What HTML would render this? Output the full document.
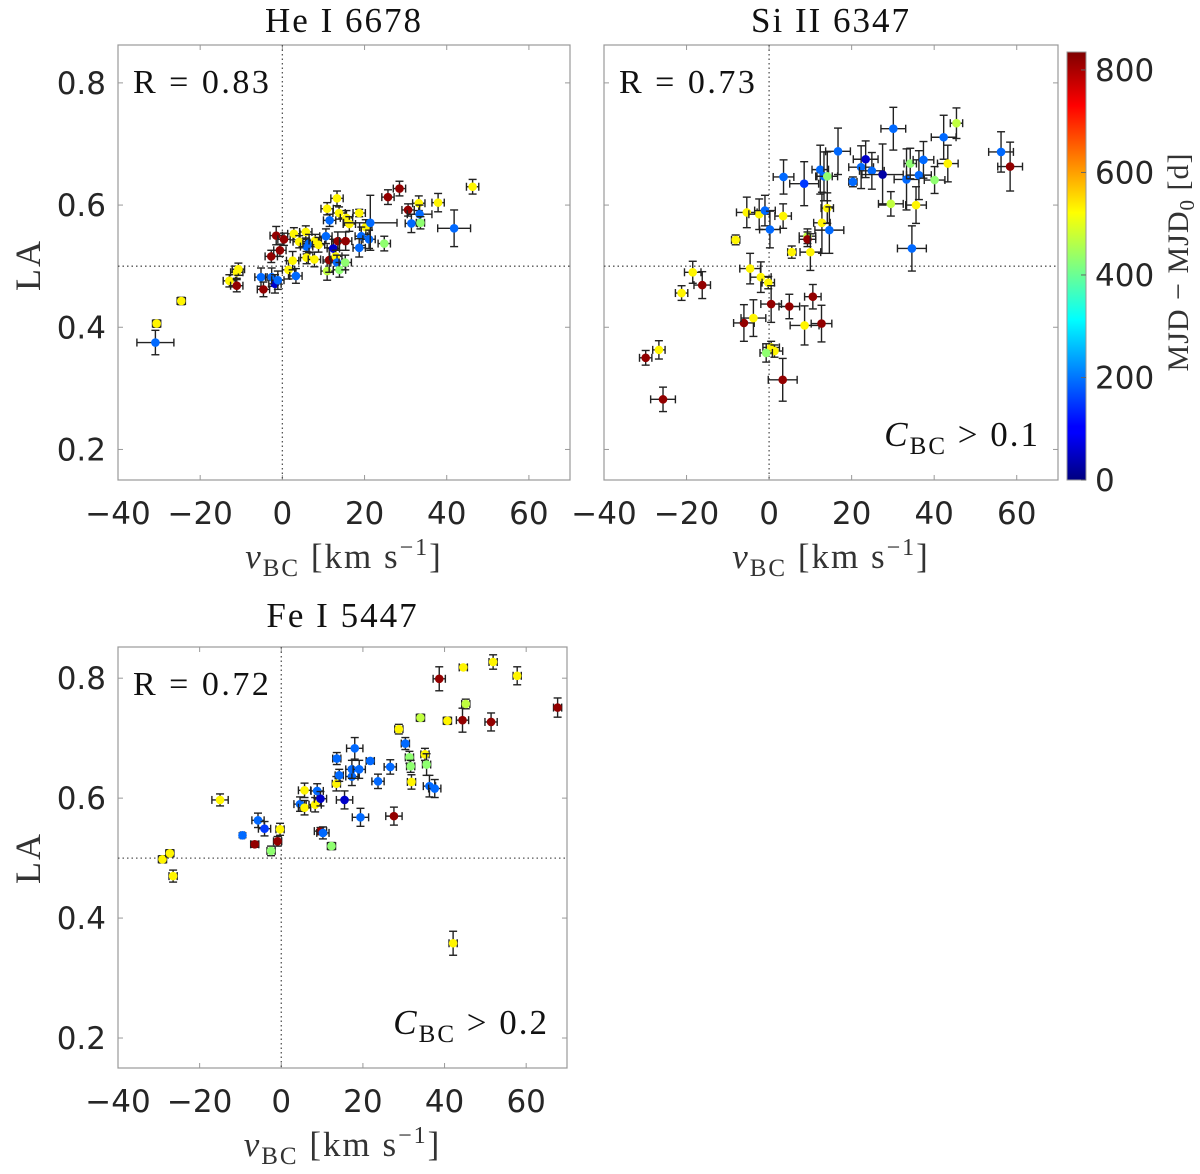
<!DOCTYPE html>
<html><head><meta charset="utf-8"><style>
body{margin:0;background:#fff;}
svg text{font-family:"DejaVu Sans","Liberation Sans",sans-serif;}
.serif{font-family:"Liberation Serif","DejaVu Serif",serif !important;}
</style></head><body>
<svg id="fig" width="1200" height="1169" viewBox="0 0 1200 1169" xmlns="http://www.w3.org/2000/svg">
<defs>
<linearGradient id="jet" x1="0" y1="1" x2="0" y2="0">
<stop offset="0" stop-color="#00007f"/><stop offset="0.11" stop-color="#0000ff"/><stop offset="0.125" stop-color="#0000ff"/>
<stop offset="0.375" stop-color="#00ffff"/><stop offset="0.625" stop-color="#ffff00"/><stop offset="0.875" stop-color="#ff0000"/><stop offset="1" stop-color="#7f0000"/>
</linearGradient>
</defs>
</svg>
<script>
// ---------- DATA ----------
// Panel 1: He I 6678
const p1X=[-30.9,-30.6,-24.6,-12.9,-11.1,-10.7,-11.1,-5.2,-4.6,-2.6,-1.8,-1.1,-2.7,-0.6,-1.5,0.4,1.5,2.5,3.3,2.8,4.1,5.7,5.9,6.5,5.9,7.8,8.0,8.8,10.6,10.9,11.4,12.4,13.0,13.3,13.9,15.3,13.5,15.4,10.9,13.3,13.8,11.5,15.6,16.3,18.7,20.3,19.2,18.7,21.1,21.4,24.8,25.7,28.5,30.6,31.4,33.2,33.4,33.6,37.9,41.8,46.3];
const p1Y=[0.375,0.406,0.443,0.476,0.490,0.495,0.468,0.482,0.462,0.482,0.471,0.477,0.516,0.526,0.550,0.544,0.494,0.509,0.484,0.553,0.540,0.556,0.532,0.537,0.514,0.511,0.542,0.535,0.549,0.492,0.510,0.529,0.516,0.506,0.494,0.506,0.541,0.541,0.594,0.611,0.587,0.575,0.579,0.569,0.587,0.564,0.549,0.530,0.544,0.571,0.537,0.613,0.627,0.592,0.570,0.603,0.585,0.571,0.604,0.562,0.630];
const p1C=[190,530,530,530,530,530,820,190,820,190,60,190,820,820,820,820,530,530,190,530,530,530,190,190,530,530,530,530,190,470,820,60,530,190,430,430,820,820,530,530,530,190,530,530,530,530,190,190,190,190,430,820,820,820,190,530,190,430,530,190,530];
const p1XE=[4.5,1,1,1.5,1.5,1.5,1.5,1.5,1.5,1.5,1.5,1.5,1.5,1.5,1.5,1.5,1.5,1.5,1.5,1.5,1.5,1.5,1.5,1.5,1.5,1.5,1.5,1.5,1.5,1.5,1.5,1.5,1.5,1.5,1.5,1.5,1.5,1.5,1.5,1.5,1.5,1.5,1.5,1.5,1.5,1.5,1.5,1.5,1.5,6.5,1.5,1.5,1.5,1.5,1.5,1.5,3,1,1.5,4,1.5];
const p1YE=[0.02,0.006,0.006,0.01,0.01,0.01,0.01,0.015,0.012,0.015,0.015,0.015,0.01,0.01,0.015,0.01,0.015,0.015,0.012,0.01,0.01,0.01,0.012,0.015,0.01,0.012,0.01,0.012,0.012,0.015,0.02,0.015,0.01,0.012,0.012,0.012,0.015,0.015,0.01,0.012,0.01,0.01,0.012,0.012,0.006,0.012,0.015,0.015,0.015,0.045,0.012,0.012,0.012,0.01,0.015,0.012,0.015,0.01,0.015,0.03,0.012];
// Panel 2: Si II 6347
const p2X=[-29.9,-26.7,-25.7,-21.2,-18.5,-16.2,-8.1,-5.4,-2.4,-1.0,0.2,3.4,-4.6,-2.0,-0.2,-6.1,-3.8,0.5,4.9,0.5,1.3,-0.7,3.3,5.5,9.3,9.3,10.0,8.6,10.6,12.7,12.8,14.1,14.6,3.5,8.5,12.4,13.3,14.1,16.7,20.3,22.3,23.4,24.9,27.5,30.1,29.5,33.3,34.2,36.3,37.4,35.6,34.6,40.1,42.3,43.3,45.4,56.2,58.4];
const p2Y=[0.350,0.363,0.282,0.456,0.490,0.469,0.543,0.588,0.585,0.591,0.560,0.582,0.496,0.482,0.473,0.407,0.415,0.438,0.434,0.367,0.361,0.358,0.314,0.523,0.549,0.544,0.523,0.403,0.450,0.406,0.571,0.595,0.559,0.646,0.635,0.658,0.647,0.647,0.688,0.638,0.662,0.675,0.656,0.650,0.725,0.602,0.642,0.668,0.649,0.674,0.600,0.529,0.641,0.711,0.668,0.734,0.687,0.663];
const p2C=[820,530,820,530,530,820,530,530,530,190,190,530,530,530,530,820,530,820,820,530,530,430,820,530,470,820,530,530,820,820,530,530,190,190,150,190,190,430,190,190,190,60,190,30,190,470,190,430,190,190,530,190,430,190,530,470,190,820];
const p2XE=[1.5,1.5,3,1.5,2,2,1,2.5,2.5,2.5,2.5,2,2.5,2.5,1.5,2.5,3,2.5,2.5,2,2,1.5,3.5,1,2,2,2.5,3.5,2,2.5,2,1.5,3.5,2.5,3.5,2,2,2.5,3,1,3,3,3,5,3,3,3,1.5,3,2.5,2.5,3.5,2.5,3,2.5,1.5,3,3];
const p2YE=[0.012,0.015,0.02,0.012,0.018,0.022,0.008,0.025,0.025,0.025,0.03,0.02,0.025,0.025,0.01,0.03,0.03,0.03,0.02,0.01,0.01,0.015,0.035,0.01,0.012,0.012,0.03,0.032,0.02,0.03,0.05,0.025,0.038,0.028,0.036,0.04,0.04,0.04,0.038,0.008,0.035,0.03,0.03,0.05,0.035,0.02,0.05,0.025,0.04,0.03,0.03,0.037,0.022,0.036,0.03,0.025,0.033,0.04];
// Panel 3: Fe I 5447
const p3X=[-29.1,-27.3,-26.5,-15.0,-9.5,-6.5,-5.7,-4.1,-2.5,-0.9,-0.3,4.6,5.7,5.7,8.3,8.8,9.6,9.6,10.2,12.3,13.5,13.6,14.2,15.5,17.3,17.3,18.0,19.1,19.4,21.8,23.7,26.7,27.6,28.8,30.4,31.4,31.7,31.9,34.1,35.2,35.6,36.3,37.6,38.7,40.7,44.6,44.4,45.2,51.4,51.9,57.8,42.1,67.7];
const p3Y=[0.498,0.508,0.470,0.597,0.538,0.523,0.563,0.549,0.512,0.528,0.548,0.590,0.613,0.584,0.589,0.612,0.599,0.545,0.542,0.520,0.624,0.666,0.638,0.597,0.636,0.648,0.683,0.648,0.568,0.662,0.628,0.652,0.570,0.715,0.691,0.668,0.653,0.627,0.734,0.673,0.656,0.620,0.616,0.799,0.729,0.818,0.730,0.757,0.727,0.827,0.804,0.358,0.751];
const p3C=[530,530,530,530,190,820,190,150,430,820,530,190,530,530,530,190,60,820,190,430,530,190,190,60,190,190,190,190,190,190,190,190,820,530,190,430,430,530,470,530,430,190,190,820,530,530,820,470,820,530,530,530,820];
const p3XE=[1,1,1,2,0.5,1,1.5,1.5,1,1,1,1.5,1.5,1.5,1.5,1.5,1.5,1.5,1.5,1,1,1,1,2,1.5,1.5,2,1.5,2,1,1.5,1.5,2,1,1,1,1,1,1,1,1,1.5,1.5,1.5,1,1,1.5,1,1.5,1,1,1,1];
const p3YE=[0.006,0.006,0.01,0.01,0.004,0.005,0.012,0.012,0.008,0.008,0.01,0.012,0.012,0.012,0.012,0.012,0.012,0.006,0.01,0.006,0.012,0.01,0.01,0.015,0.015,0.015,0.018,0.015,0.015,0.004,0.012,0.012,0.015,0.008,0.01,0.01,0.01,0.012,0.006,0.01,0.018,0.018,0.015,0.02,0.006,0.004,0.02,0.008,0.015,0.012,0.015,0.02,0.016];
const xTicks=[-40,-20,0,20,40,60];
const yTicks=[0.2,0.4,0.6,0.8];
const cTicks=[0,200,400,600,800];
const C_MAX=835;

// ---------- DRAW ----------
const NS="http://www.w3.org/2000/svg";
const svg=document.getElementById('fig');
function el(tag,attrs,parent){const e=document.createElementNS(NS,tag);for(const k in attrs)e.setAttribute(k,attrs[k]);(parent||svg).appendChild(e);return e;}
function jet(v){let t=Math.max(0,Math.min(1,v/C_MAX));
 const f=(x)=>Math.max(0,Math.min(1,1.5-Math.abs(4*t-x)));
 return `rgb(${Math.round(255*f(3))},${Math.round(255*f(2))},${Math.round(255*f(1))})`;}

function panel(id,box,ytop,title,titleY,R,note,showY,xs,ys,cs,xe,ye){
 const [L,T,Rt,B]=box;
 const g=el('g',{});
 
 
 const sx=v=>L+(v+40)/110*(Rt-L);
 const sy=v=>B-(v-0.15)/(ytop-0.15)*(B-T);
 const frame=el('rect',{x:L,y:T,width:Rt-L,height:B-T,fill:'#fff',stroke:'#999','stroke-width':1.2},g);
 
 
 xTicks.forEach(t=>{const x=sx(t);
  el('line',{x1:x,x2:x,y1:B,y2:B-5,stroke:'#999'},g);el('line',{x1:x,x2:x,y1:T,y2:T+5,stroke:'#999'},g);
  const tx=el('text',{x:x,y:B+44,'font-size':31,'text-anchor':'middle',fill:'#262626'},g);
  tx.textContent=(t<0?'\u2212':'')+Math.abs(t);
  
  });
 yTicks.forEach(t=>{const y=sy(t);
  el('line',{x1:L,x2:L+5,y1:y,y2:y,stroke:'#999'},g);el('line',{x1:Rt,x2:Rt-5,y1:y,y2:y,stroke:'#999'},g);
  if(showY){const tx=el('text',{x:L-12,y:y+11,'font-size':31,'text-anchor':'end',fill:'#262626'},g);
  tx.textContent=t.toFixed(1);
  
  }});
 el('line',{x1:sx(0),x2:sx(0),y1:T,y2:B,stroke:'#555','stroke-dasharray':'1.5 3','stroke-width':1.3},g);
 el('line',{x1:L,x2:Rt,y1:sy(0.5),y2:sy(0.5),stroke:'#555','stroke-dasharray':'1.5 3','stroke-width':1.3},g);
 for(let i=0;i<xs.length;i++){
  const x=sx(xs[i]),y=sy(ys[i]),dx=sx(xs[i]+xe[i])-x,dy=y-sy(ys[i]+ye[i]);
  const pg=el('g',{stroke:'#222','stroke-width':1.4},g);
  
  
  el('line',{x1:x-dx,x2:x+dx,y1:y,y2:y},pg);el('line',{x1:x,x2:x,y1:y-dy,y2:y+dy},pg);
  el('line',{x1:x-dx,x2:x-dx,y1:y-4,y2:y+4},pg);el('line',{x1:x+dx,x2:x+dx,y1:y-4,y2:y+4},pg);
  el('line',{x1:x-4,x2:x+4,y1:y-dy,y2:y-dy},pg);el('line',{x1:x-4,x2:x+4,y1:y+dy,y2:y+dy},pg);
  el('circle',{cx:x,cy:y,r:4.3,fill:jet(cs[i]),stroke:'none'},pg);
 }
 const tt=el('text',{x:(L+Rt)/2,y:titleY,'font-size':35,'letter-spacing':2,'text-anchor':'middle',fill:'#111',class:'serif'},g);
 tt.textContent=title;
 
 
 const rt=el('text',{x:L+15,y:T+48,'font-size':34,'letter-spacing':2.5,fill:'#111',class:'serif'},g);
 rt.textContent='R = '+R;
 
 
 if(note){const nt=el('text',{x:Rt-18,y:B-34,'font-size':35,'letter-spacing':2,'text-anchor':'end',fill:'#111',class:'serif'},g);
  nt.innerHTML='<tspan font-style="italic">C</tspan><tspan font-size="25" dy="8">BC</tspan><tspan dy="-8"> &gt; '+note+'</tspan>';
  
  }
 const xl=el('text',{x:(L+Rt)/2,y:B+88,'font-size':35,'letter-spacing':2,'text-anchor':'middle',fill:'#333',class:'serif'},g);
 xl.innerHTML='<tspan font-style="italic">v</tspan><tspan font-size="25" dy="8">BC</tspan><tspan dy="-8"> [km s</tspan><tspan font-size="24" dy="-13">\u22121</tspan><tspan dy="13">]</tspan>';
 
 
}
panel('panel-he-i-6678',[118,45,570,480],0.862,'He I 6678',32,'0.83',null,true,p1X,p1Y,p1C,p1XE,p1YE);
panel('panel-si-ii-6347',[604,45,1058,480],0.862,'Si II 6347',32,'0.73','0.1',false,p2X,p2Y,p2C,p2XE,p2YE);
panel('panel-fe-i-5447',[118,647,567,1068],0.852,'Fe I 5447',627,'0.72','0.2',true,p3X,p3Y,p3C,p3XE,p3YE);
[[265],[858]].forEach(([cy])=>{const t=el('text',{x:0,y:0,'font-size':36,'letter-spacing':2,'text-anchor':'middle',fill:'#333',class:'serif',transform:`translate(40,${cy}) rotate(-90)`});
 t.textContent='LA';
 
 });
const cb=el('rect',{x:1067,y:52,width:19,height:428,fill:'url(#jet)',stroke:'#999'});


cTicks.forEach(v=>{const y=480-v/C_MAX*428;
 el('line',{x1:1081,x2:1086,y1:y,y2:y,stroke:'#666'});
 const t=el('text',{x:1095,y:y+11,'font-size':31,fill:'#262626'});
 t.textContent=v;
 
 });
const cl=el('text',{x:0,y:0,'font-size':30,'letter-spacing':1,'text-anchor':'middle',fill:'#333',class:'serif',transform:'translate(1188,262) rotate(-90)'});
cl.innerHTML='MJD \u2212 MJD<tspan font-size="21" dy="6">0</tspan><tspan dy="-6"> [d]</tspan>';


</script>
</body></html>
